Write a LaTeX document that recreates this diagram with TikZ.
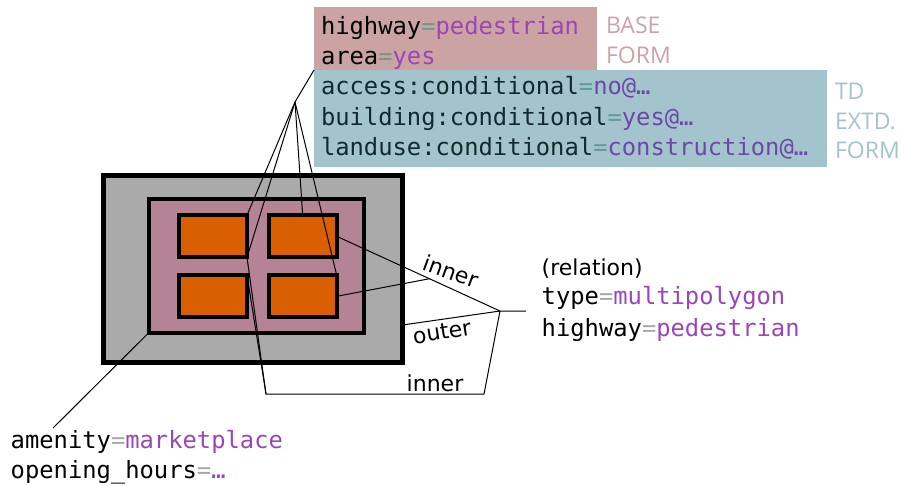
\documentclass[tikz,border=0pt]{standalone}
\usepackage{fontspec}
\setmainfont{DejaVu Sans}
\newfontfamily\tagmono{DejaVu Sans Mono}
\newfontfamily\formfont{Open Sans}
\usetikzlibrary{calc}

\definecolor{basefill}{HTML}{CCA3A3}
\definecolor{extfill}{HTML}{A3C4CC}
\definecolor{shellgray}{HTML}{AAAAAA}
\definecolor{plazafill}{HTML}{B58396}
\definecolor{bldorange}{HTML}{D95F00}
\definecolor{valpurple}{HTML}{9A46B8}
\definecolor{valblue}{HTML}{6A4AA6}
\definecolor{eqgray}{HTML}{A8A8A8}
\definecolor{eqpink}{HTML}{72998A}
\definecolor{eqblue}{HTML}{5E9C96}
\definecolor{keyteal}{HTML}{12292E}

% key=value with separately coloured '=' and value
\newcommand\kvpair[4]{#1\textcolor{#3}{=}\textcolor{#4}{#2}}

\tikzset{
  every node/.style={inner sep=0pt, outer sep=0pt},
  tagtext/.style={font=\tagmono\fontsize{23.8}{30}\selectfont, anchor=base west},
  sanstext/.style={font=\fontsize{22}{27}\selectfont},
  formtext/.style={font=\formfont\fontsize{23}{30}\selectfont, anchor=base west},
  tagbox/.style={anchor=north west, draw=none},
  shell/.style={draw=black, line width=5pt, fill=shellgray},
  plaza/.style={draw=black, line width=4pt, fill=plazafill},
  bld/.style={draw=black, line width=4pt, fill=bldorange,
              minimum width=68pt, minimum height=42pt},
  link/.style={line width=1pt, black},
}

\begin{document}
\begin{tikzpicture}[x=1pt, y=-1pt]
\useasboundingbox (0,0) rectangle (901,485);

% tag boxes
\node[tagbox, fill=basefill, minimum width=283pt, minimum height=63pt] (base) at (314,7) {};
\node[tagbox, fill=extfill, minimum width=513pt, minimum height=97pt] (ext) at (314,70) {};

\node[tagtext] (b1) at (321,34) {\kvpair{highway}{pedestrian}{eqpink}{valpurple}};
\node[tagtext] (b2) at (321,64) {\kvpair{area}{yes}{eqpink}{valpurple}};
\node[tagtext, text=keyteal] (e1) at (321,94) {\kvpair{access:conditional}{no@…}{eqblue}{valblue}};
\node[tagtext, text=keyteal] (e2) at (321,125) {\kvpair{building:conditional}{yes@…}{eqblue}{valblue}};
\node[tagtext, text=keyteal] (e3) at (321,155) {\kvpair{landuse:conditional}{construction@…}{eqblue}{valblue}};

\node[formtext, text=basefill] (f1) at (606,33) {BASE};
\node[formtext, text=basefill] (f2) at (606,63) {FORM};
\node[formtext, text=extfill] (f3) at (835,99) {TD};
\node[formtext, text=extfill] (f4) at (835,129) {EXTD.};
\node[formtext, text=extfill] (f5) at (835,158) {FORM};

% outer shell, pedestrian area and four buildings
\node[shell, minimum width=299pt, minimum height=187pt] (outer) at (253,269) {};
\node[plaza, minimum width=215.5pt, minimum height=134.5pt] (inner) at (256.25,265.75) {};
\node[bld] (TL) at (213,236.3) {};
\node[bld] (TR) at (302.7,236.3) {};
\node[bld] (BL) at (213,296.3) {};
\node[bld] (BR) at (302.7,296.3) {};

% tag box links
\coordinate (J1) at (295,102);
\draw[link] (base.south west) -- (J1);
\draw[link] (J1) -- (TL.north east);
\draw[link] (J1) -- (TL.south east);
\draw[link] (J1) -- (TR.north);
\draw[link] (J1) -- (BR.north east);

% relation members
\coordinate (J2) at (500,311);
\coordinate (relpin) at (526,311);
\coordinate (F) at ($(J2)!0.432!(TR.east)$);
\coordinate (C1) at (484,394);
\coordinate (C2) at (266,394);
\draw[link] (relpin) -- (J2) -- (TR.east);
\draw[link] (F) -- (BR.east);
\draw[link] (J2) -- ([yshift=-56pt]outer.east);
\draw[link] (J2) -- (C1) -- (C2) -- (TL.south east);
\draw[link] (C2) -- (BL.north east);

\node[sanstext, anchor=base, rotate=-20] (lin1) at (448,279) {inner};
\node[sanstext, rotate=9] (lout) at (442,332) {outer};
\node[sanstext, anchor=base] (lin2) at (435,391) {inner};

% relation tags
\node[sanstext, anchor=base west] (r1) at (541.7,275) {(relation)};
\node[tagtext] (r2) at (541.7,304) {\kvpair{type}{multipolygon}{eqgray}{valpurple}};
\node[tagtext] (r3) at (541.7,336) {\kvpair{highway}{pedestrian}{eqgray}{valpurple}};

% marketplace tags
\coordinate (amenpin) at (53,428);
\draw[link] (inner.south west) -- (amenpin);
\node[tagtext] (a1) at (10.7,448) {\kvpair{amenity}{marketplace}{eqgray}{valpurple}};
\node[tagtext] (a2) at (10.7,478) {\kvpair{opening\_hours}{…}{eqgray}{valpurple}};
\end{tikzpicture}
\end{document}
